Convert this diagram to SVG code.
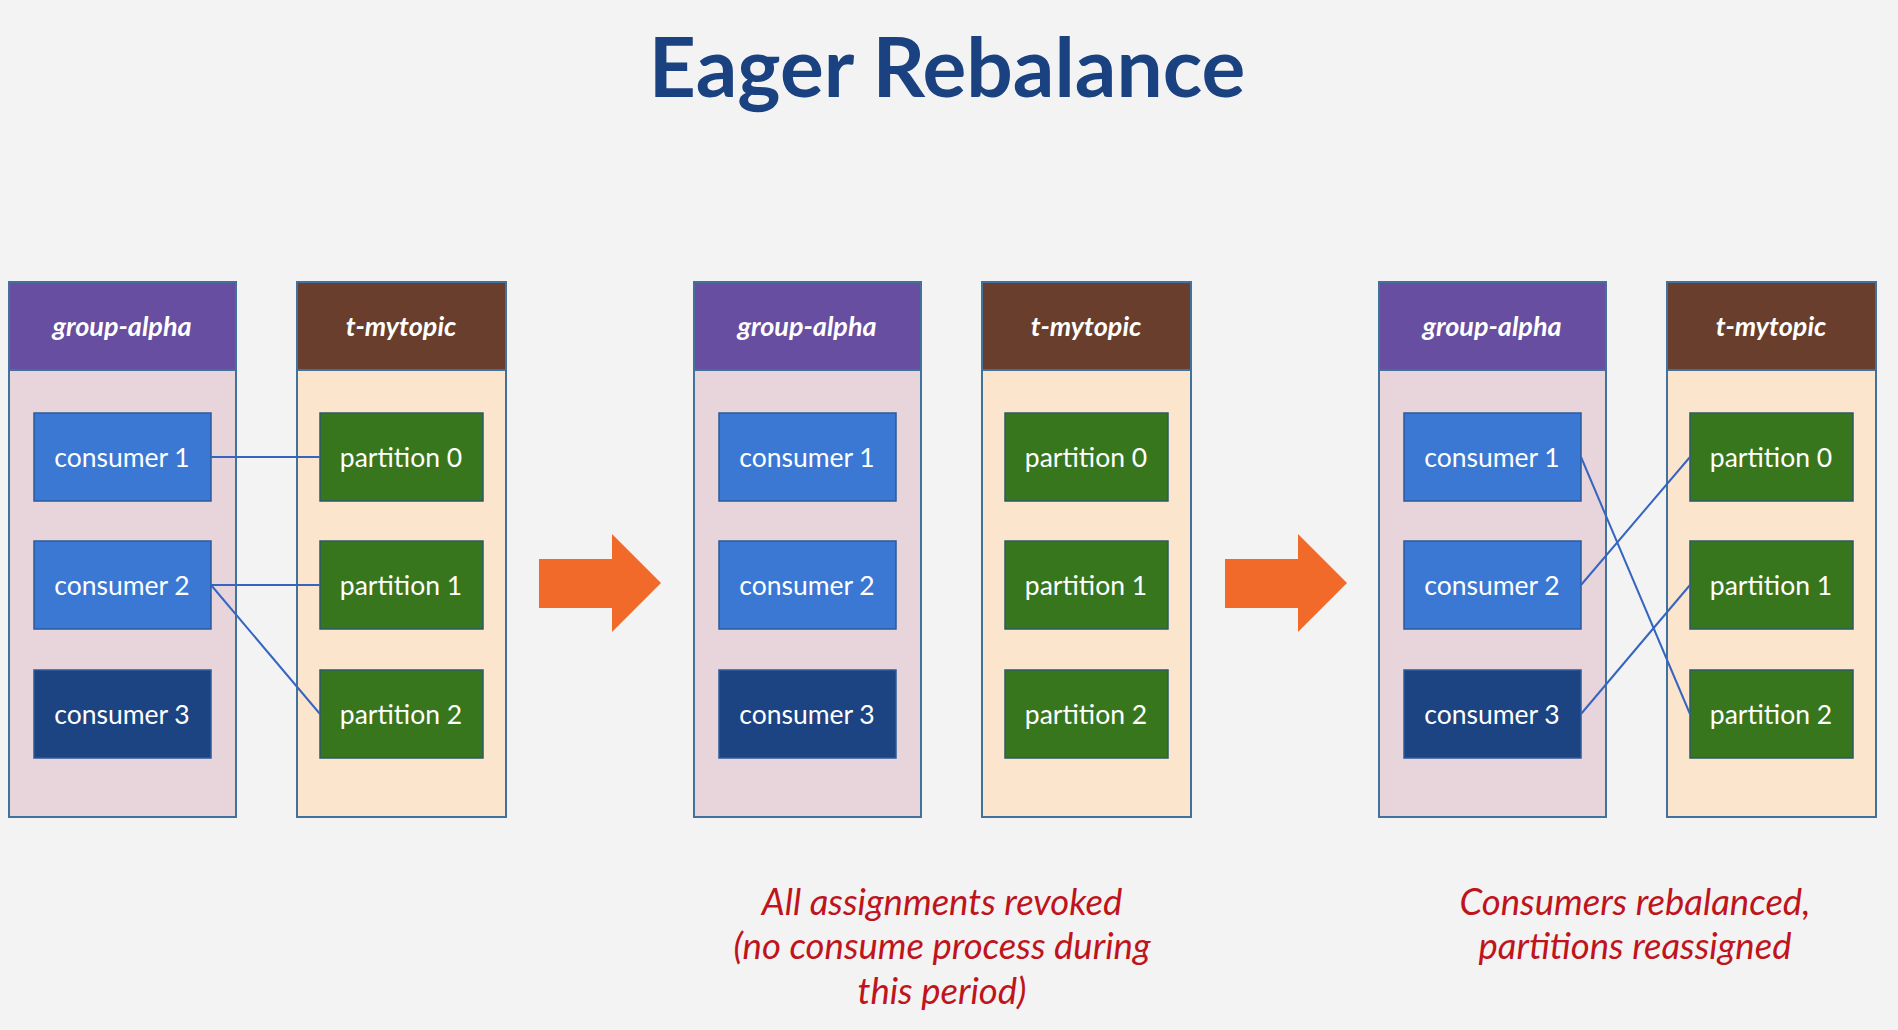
<svg xmlns="http://www.w3.org/2000/svg" width="1898" height="1030" viewBox="0 0 1898 1030">
<style>
.bg{fill:#f3f3f3}
.gbody{fill:#e8d5dc;stroke:#41719c;stroke-width:2}
.tbody{fill:#fce5cd;stroke:#41719c;stroke-width:2}
.ghead{fill:#674ea0;stroke:#41719c;stroke-width:2}
.thead{fill:#693e2c;stroke:#41719c;stroke-width:2}
.cons{fill:#3a78d4;stroke:#2a5a9a;stroke-width:1.5}
.cons3{fill:#1c4482;stroke:#2a5a9a;stroke-width:1.5}
.part{fill:#38761d;stroke:#2a5a6a;stroke-width:1.5}
.ht{font-family:Lato,"Liberation Sans",sans-serif;font-weight:bold;font-style:italic;font-size:27px;fill:#ffffff;text-anchor:middle}
.bt{font-family:Lato,"Liberation Sans",sans-serif;font-size:26.5px;fill:#ffffff;text-anchor:middle}
.title{font-family:Lato,"Liberation Sans",sans-serif;font-weight:bold;font-size:82px;fill:#1b4280;text-anchor:middle}
.note{font-family:Lato,"Liberation Sans",sans-serif;font-style:italic;font-size:36.5px;fill:#c0141c;text-anchor:middle}
.link{stroke:#3565c0;stroke-width:2;fill:none}
.arrow{fill:#f26a2a}
</style>
<rect class="bg" x="0" y="0" width="1898" height="1030"/>
<text class="title" x="947" y="97">Eager Rebalance</text>

<!-- Panel 1 -->
<g id="p1-group">
<rect class="gbody" x="9" y="282" width="227" height="535"/>
<rect class="ghead" x="9" y="282" width="227" height="88"/>
<text class="ht" x="122" y="336">group-alpha</text>
</g>
<g id="p1-topic">
<rect class="tbody" x="297" y="282" width="209" height="535"/>
<rect class="thead" x="297" y="282" width="209" height="88"/>
<text class="ht" x="401" y="336">t-mytopic</text>
</g>
<g id="p1-c1"><rect class="cons" x="34" y="413" width="177" height="88"/><text class="bt" x="122" y="467">consumer 1</text></g>
<g id="p1-c2"><rect class="cons" x="34" y="541" width="177" height="88"/><text class="bt" x="122" y="595">consumer 2</text></g>
<g id="p1-c3"><rect class="cons3" x="34" y="670" width="177" height="88"/><text class="bt" x="122" y="724">consumer 3</text></g>
<g id="p1-p0"><rect class="part" x="320" y="413" width="163" height="88"/><text class="bt" x="401" y="467">partition 0</text></g>
<g id="p1-p1"><rect class="part" x="320" y="541" width="163" height="88"/><text class="bt" x="401" y="595">partition 1</text></g>
<g id="p1-p2"><rect class="part" x="320" y="670" width="163" height="88"/><text class="bt" x="401" y="724">partition 2</text></g>

<!-- Panel 2 -->
<g id="p2-group">
<rect class="gbody" x="694" y="282" width="227" height="535"/>
<rect class="ghead" x="694" y="282" width="227" height="88"/>
<text class="ht" x="807" y="336">group-alpha</text>
</g>
<g id="p2-topic">
<rect class="tbody" x="982" y="282" width="209" height="535"/>
<rect class="thead" x="982" y="282" width="209" height="88"/>
<text class="ht" x="1086" y="336">t-mytopic</text>
</g>
<g id="p2-c1"><rect class="cons" x="719" y="413" width="177" height="88"/><text class="bt" x="807" y="467">consumer 1</text></g>
<g id="p2-c2"><rect class="cons" x="719" y="541" width="177" height="88"/><text class="bt" x="807" y="595">consumer 2</text></g>
<g id="p2-c3"><rect class="cons3" x="719" y="670" width="177" height="88"/><text class="bt" x="807" y="724">consumer 3</text></g>
<g id="p2-p0"><rect class="part" x="1005" y="413" width="163" height="88"/><text class="bt" x="1086" y="467">partition 0</text></g>
<g id="p2-p1"><rect class="part" x="1005" y="541" width="163" height="88"/><text class="bt" x="1086" y="595">partition 1</text></g>
<g id="p2-p2"><rect class="part" x="1005" y="670" width="163" height="88"/><text class="bt" x="1086" y="724">partition 2</text></g>

<!-- Panel 3 -->
<g id="p3-group">
<rect class="gbody" x="1379" y="282" width="227" height="535"/>
<rect class="ghead" x="1379" y="282" width="227" height="88"/>
<text class="ht" x="1492" y="336">group-alpha</text>
</g>
<g id="p3-topic">
<rect class="tbody" x="1667" y="282" width="209" height="535"/>
<rect class="thead" x="1667" y="282" width="209" height="88"/>
<text class="ht" x="1771" y="336">t-mytopic</text>
</g>
<g id="p3-c1"><rect class="cons" x="1404" y="413" width="177" height="88"/><text class="bt" x="1492" y="467">consumer 1</text></g>
<g id="p3-c2"><rect class="cons" x="1404" y="541" width="177" height="88"/><text class="bt" x="1492" y="595">consumer 2</text></g>
<g id="p3-c3"><rect class="cons3" x="1404" y="670" width="177" height="88"/><text class="bt" x="1492" y="724">consumer 3</text></g>
<g id="p3-p0"><rect class="part" x="1690" y="413" width="163" height="88"/><text class="bt" x="1771" y="467">partition 0</text></g>
<g id="p3-p1"><rect class="part" x="1690" y="541" width="163" height="88"/><text class="bt" x="1771" y="595">partition 1</text></g>
<g id="p3-p2"><rect class="part" x="1690" y="670" width="163" height="88"/><text class="bt" x="1771" y="724">partition 2</text></g>

<g id="connectors">
<line class="link" x1="211" y1="457" x2="320" y2="457"/>
<line class="link" x1="211" y1="585" x2="320" y2="585"/>
<line class="link" x1="211" y1="585" x2="320" y2="714"/>
<line class="link" x1="1581" y1="457" x2="1690" y2="714"/>
<line class="link" x1="1581" y1="585" x2="1690" y2="457"/>
<line class="link" x1="1581" y1="714" x2="1690" y2="585"/>
</g>

<g id="arrow1"><polygon class="arrow" points="539,559 612,559 612,534 661,583 612,632 612,608 539,608"/></g>
<g id="arrow2"><polygon class="arrow" points="1225,559 1298,559 1298,534 1347,583 1298,632 1298,608 1225,608"/></g>

<g id="note1">
<text class="note" x="942" y="915">All assignments revoked</text>
<text class="note" x="942" y="959">(no consume process during</text>
<text class="note" x="942" y="1004">this period)</text>
</g>
<g id="note2">
<text class="note" x="1635" y="915">Consumers rebalanced,</text>
<text class="note" x="1635" y="959">partitions reassigned</text>
</g>
</svg>
